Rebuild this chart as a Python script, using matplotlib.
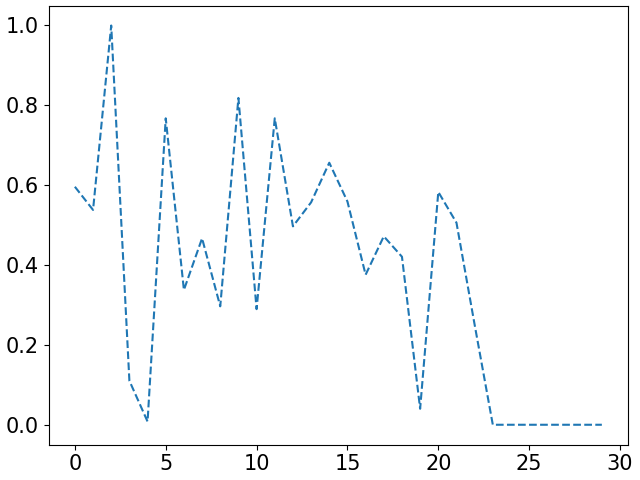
import matplotlib
matplotlib.use("Agg")
import matplotlib.pyplot as plt

# values
steps = list(range(30))
values = [0.595, 0.537, 0.998, 0.110, 0.008, 0.766, 0.337, 0.466, 0.296, 0.817,
          0.289, 0.766, 0.496, 0.556, 0.655, 0.558, 0.375, 0.471, 0.420, 0.040,
          0.582, 0.505, 0.250, 0.0, 0.0, 0.0, 0.0, 0.0, 0.0, 0.0]

fig, ax = plt.subplots(figsize=(6.4, 4.8), dpi=100)
ax.plot(steps, values, linestyle="--", color="#1f77b4")
ax.tick_params(labelsize=15)
plt.tight_layout(pad=0.4)
plt.savefig("out.png")
